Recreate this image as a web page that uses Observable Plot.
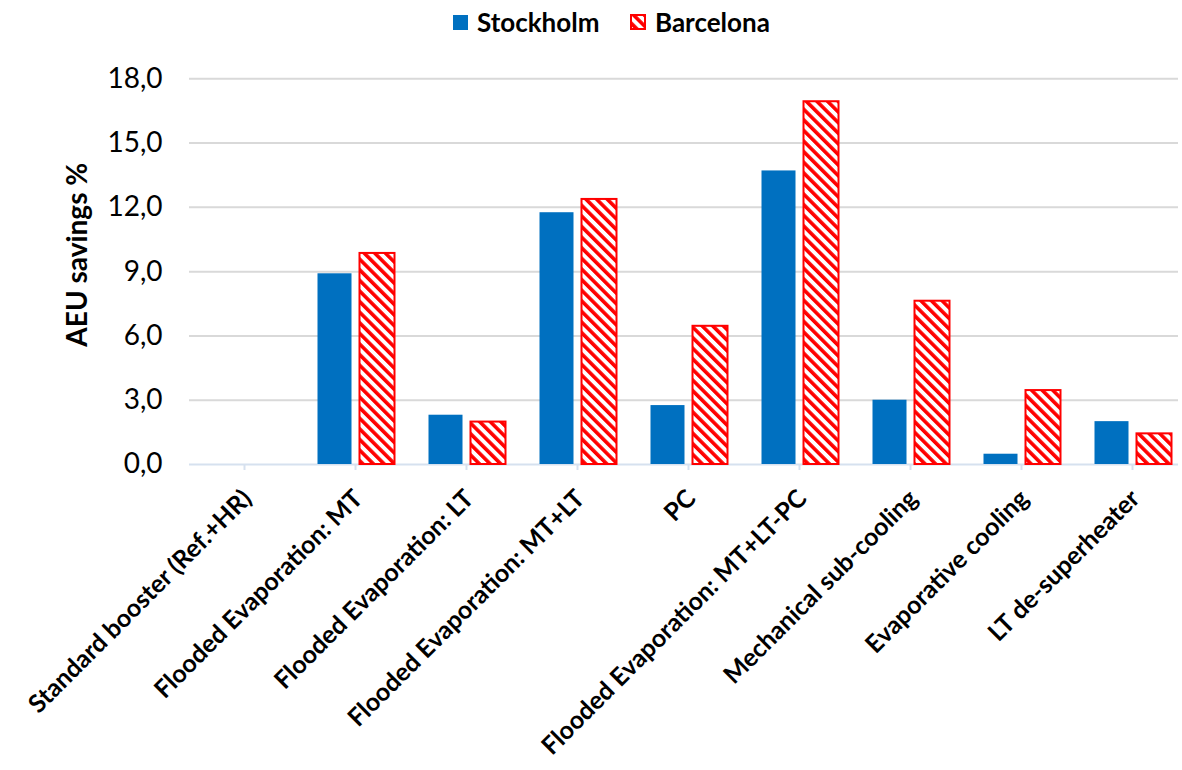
<!DOCTYPE html>
<html>
<head>
<meta charset="utf-8">
<script src="https://cdn.jsdelivr.net/npm/d3@7"></script>
<script src="https://cdn.jsdelivr.net/npm/@observablehq/plot@0.6"></script>
<style>
  html, body { margin: 0; padding: 0; background: #fff; }
  body { width: 1182px; height: 770px; overflow: hidden; font-family: Lato, "Open Sans", sans-serif; }
  #legend { position: relative; height: 40px; font-weight: bold; font-size: 26px; color: #000; }
  .item { position: absolute; top: 6px; display: flex; align-items: center; height: 32px; }
  .sw { display: inline-block; margin-right: 9px; }
</style>
</head>
<body>
<svg width="0" height="0" style="position:absolute">
  <defs>
    <pattern id="stripes" patternUnits="userSpaceOnUse" width="7.5" height="7.5" patternTransform="rotate(-45)">
      <rect x="0" y="0" width="7.5" height="7.5" fill="#ffffff"></rect>
      <rect x="0" y="0" width="3.6" height="7.5" fill="#ff0000"></rect>
    </pattern>
  </defs>
</svg>
<div id="legend">
  <div class="item" style="left:453px"><svg class="sw" width="15" height="15"><rect width="15" height="15" fill="#0070c0"></rect></svg>Stockholm</div>
  <div class="item" style="left:630px"><svg class="sw" width="16" height="16"><rect x="1" y="1" width="14" height="14" fill="url(#stripes)" stroke="#ff0000" stroke-width="2"></rect></svg>Barcelona</div>
</div>
<div id="chart"></div>
<script>
const categories = [
  "Standard booster (Ref.+HR)",
  "Flooded Evaporation: MT",
  "Flooded Evaporation: LT",
  "Flooded Evaporation: MT+LT",
  "PC",
  "Flooded Evaporation: MT+LT-PC",
  "Mechanical sub-cooling",
  "Evaporative cooling",
  "LT de-superheater"
];
const stockholm = [0, 8.9, 2.3, 11.75, 2.75, 13.7, 3.0, 0.48, 2.0];
const barcelona = [0, 9.85, 1.98, 12.37, 6.45, 16.93, 7.62, 3.45, 1.43];
const yTicks = [0, 3, 6, 9, 12, 15, 18];
const yTitle = "AEU savings %";

const rowsS = categories.map((c, i) => ({category: c, value: stockholm[i]})).filter(d => d.value > 0);
const rowsB = categories.map((c, i) => ({category: c, value: barcelona[i]})).filter(d => d.value > 0);

const H = 730, mTop = 38.3, mBottom = 306;
const tickLen = 6 * 18 / (H - mTop - mBottom);
const font = "Lato, 'Open Sans', sans-serif";

const chart = Plot.plot({
  width: 1182,
  height: H,
  marginTop: mTop,
  marginBottom: mBottom,
  marginLeft: 189,
  marginRight: 4,
  style: {fontFamily: font, fontSize: "24px", color: "#000", background: "#fff"},
  x: {domain: categories, range: [188.5, 1187.5], padding: 0, round: false, axis: null},
  y: {domain: [0, 18], axis: null},
  marks: [
    Plot.ruleY(yTicks.filter(d => d > 0), {stroke: "#d9d9d9", strokeWidth: 2}),
    Plot.ruleY([0], {stroke: "#d6e1ef", strokeWidth: 2}),
    Plot.ruleX(categories, {x: d => d, y1: 0, y2: -tickLen, stroke: "#d6e1ef", strokeWidth: 2}),
    Plot.barY(rowsS, {x: "category", y: "value", fill: "#0070c0", insetLeft: 18, insetRight: 59}),
    Plot.barY(rowsB, {x: "category", y: "value", fill: "url(#stripes)", stroke: "#ff0000", strokeWidth: 2, insetLeft: 60, insetRight: 16}),
    Plot.text(yTicks, {y: d => d, text: d => d.toFixed(1).replace(".", ","), frameAnchor: "left", textAnchor: "end", dx: -27, fill: "#000", fontSize: 28}),
    Plot.text([yTitle], {text: d => d, frameAnchor: "left", dx: -111, dy: 75, rotate: -90, fontWeight: "bold", fontSize: 28, fill: "#000"}),
    Plot.text(categories, {x: d => d, y: 0, text: d => d, rotate: -45, textAnchor: "end", dx: 3, dy: 30, fontWeight: "bold", fontSize: 25, fill: "#000"})
  ]
});
document.getElementById("chart").appendChild(chart);
</script>
</body>
</html>
